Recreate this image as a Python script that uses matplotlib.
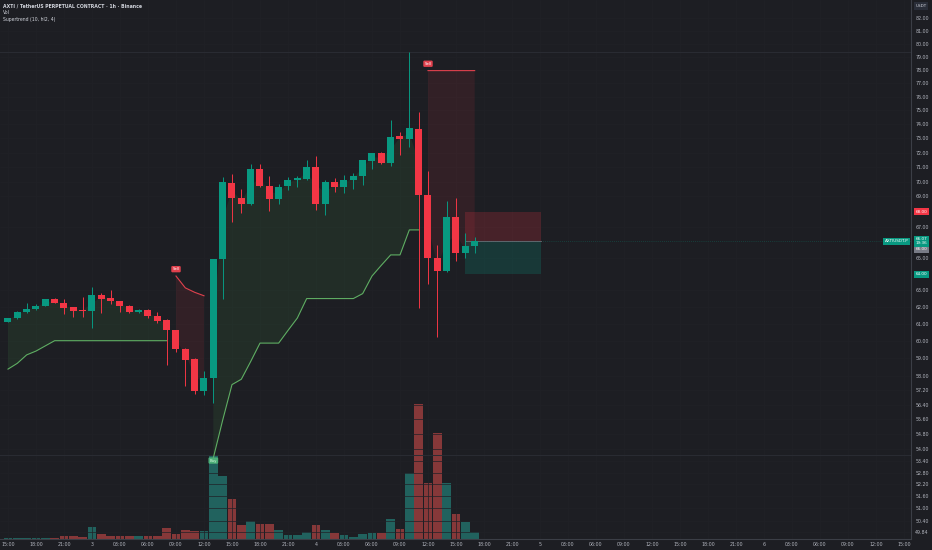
import matplotlib
matplotlib.use("Agg")
import matplotlib.pyplot as plt
import matplotlib.transforms as mtransforms
from matplotlib.ticker import NullLocator
import numpy as np

# hourly candles, first one is 15:00 on day 2
opens = [61.12, 61.31, 61.69, 61.87, 62.06, 62.47, 62.24, 61.98, 61.82, 61.73,
         62.70, 62.51, 62.33, 62.06, 61.69, 61.82, 61.43, 61.20, 60.61, 59.50,
         58.93, 57.15, 57.87, 64.93, 69.93, 68.87, 68.53, 70.85, 69.73, 68.80,
         69.70, 70.08, 70.20, 71.00, 68.47, 70.00, 69.65, 70.13, 70.40, 71.42,
         71.95, 71.30, 73.15, 72.93, 73.68, 69.10, 65.00, 64.22, 67.67, 65.35,
         65.75]
highs = [61.36, 61.74, 62.25, 62.18, 62.50, 62.52, 62.50, 62.02, 62.57, 63.20,
         62.84, 63.00, 62.37, 62.09, 61.86, 61.85, 61.72, 61.27, 60.65, 59.55,
         58.98, 58.27, 64.95, 70.30, 70.54, 69.47, 71.20, 71.20, 70.35, 69.83,
         70.33, 70.35, 71.45, 71.75, 70.10, 70.27, 70.45, 70.60, 71.50, 72.00,
         72.05, 74.30, 73.45, 79.40, 74.90, 70.70, 65.80, 68.70, 68.87, 66.60,
         66.35]
lows = [61.08, 61.28, 61.66, 61.84, 62.03, 62.22, 61.60, 61.37, 61.39, 60.75,
        61.66, 62.16, 61.69, 61.63, 61.66, 61.31, 61.04, 58.63, 59.33, 57.41,
        57.00, 56.92, 56.50, 62.50, 67.33, 67.92, 68.40, 69.65, 68.02, 68.47,
        69.45, 69.62, 70.13, 68.07, 67.77, 69.29, 69.20, 69.50, 69.80, 70.88,
        71.20, 71.10, 71.85, 72.40, 61.96, 63.40, 60.20, 64.15, 64.80, 65.00,
        65.30]
closes = [61.31, 61.71, 61.88, 62.08, 62.47, 62.25, 61.96, 61.76, 61.76, 62.70,
          62.47, 62.35, 62.04, 61.71, 61.82, 61.47, 61.18, 60.63, 59.50, 58.90,
          57.12, 57.88, 64.93, 70.00, 68.91, 68.51, 70.85, 69.71, 68.80, 69.65,
          70.13, 70.22, 71.00, 68.51, 70.00, 69.65, 70.13, 70.40, 71.45, 71.95,
          71.30, 73.12, 72.93, 73.72, 69.12, 65.00, 64.20, 67.65, 65.35, 65.75,
          66.07]
volumes = [13, 10, 13, 7, 10, 10, 30, 27, 23, 117,
           50, 33, 27, 27, 30, 27, 30, 107, 47, 87,
           77, 80, 840, 630, 397, 140, 180, 153, 147, 87,
           40, 43, 70, 137, 90, 60, 37, 23, 53, 63,
           63, 197, 100, 660, 1347, 557, 1063, 557, 247, 170,
           73]

# supertrend (10, hl2, 4): None where the other side is active
st_up = [58.37, 58.70, 59.18, 59.40, 59.70, 60.00, 60.00, 60.00, 60.00, 60.00,
         60.00, 60.00, 60.00, 60.00, 60.00, 60.00, 60.00, 60.00, None, None,
         None, None, 53.56, 55.55, 57.50, 57.80, 58.80, 59.86, 59.86, 59.86,
         60.60, 61.33, 62.50, 62.50, 62.50, 62.50, 62.50, 62.50, 62.80, 63.88,
         64.55, 65.20, 65.20, 66.80, 66.80, None, None, None, None, None,
         None]
st_down = [None] * 18 + [63.88, 63.15, 62.88, 62.67] + [None] * 23 + [77.95] * 6
sell_bars = [18, 45]
buy_bars = [22]

# short position tool
pos_start, pos_end = 49, 57.1
pos_stop, pos_entry, pos_target = 68.00, 66.07, 64.00

x_tick_labels = ["15:00", "18:00", "21:00", "3", "03:00", "06:00", "09:00", "12:00",
                 "15:00", "18:00", "21:00", "4", "03:00", "06:00", "09:00", "12:00",
                 "15:00", "18:00", "21:00", "5", "03:00", "06:00", "09:00", "12:00",
                 "15:00", "18:00", "21:00", "6", "03:00", "06:00", "09:00", "12:00",
                 "15:00"]
y_ticks = [82, 81, 80, 79, 78, 77, 76, 75, 74, 73, 72, 71, 70, 69, 67, 65,
           63, 62, 61, 60, 59, 58, 57.2, 56.4, 55.6, 54.8, 54.0, 53.4, 52.8,
           52.2, 51.6, 51.0, 50.4, 49.84]

BG = "#1d1e23"
UP = "#089981"
DOWN = "#f23645"
TXT = "#b2b5be"
AXIS = "#3b3e46"
GRID = "#202127"

o = np.array(opens)
h = np.array(highs)
l = np.array(lows)
c = np.array(closes)
v = np.array(volumes, dtype=float)
x = np.arange(len(o))
up = c >= o
st_u = np.array([np.nan if s is None else s for s in st_up])
st_d = np.array([np.nan if s is None else s for s in st_down])
mid = (o + c) / 2

fig = plt.figure(figsize=(9.32, 5.5), dpi=100, facecolor=BG)
ax = fig.add_axes([0, 11 / 550, 911 / 932, 539 / 550])
ax_v = ax.twinx()
ax.set_zorder(ax_v.get_zorder() + 1)
ax.patch.set_visible(False)
ax_v.set_facecolor(BG)

ax.set_yscale("log")
ax.set_ylim(49.51, 83.47)
ax.set_xlim(-0.857, 96.75)

# volume
ax_v.bar(x, v, width=0.92, color=np.where(up, "#26a69a", "#ef5350"), alpha=0.5, linewidth=0)
ax_v.set_ylim(0, 5390)
ax_v.set_yticks([])
for s in ax_v.spines.values():
    s.set_visible(False)

# grid (very faint, as in the dark theme)
for t in range(0, 97, 3):
    ax.axvline(t, color=GRID, linewidth=0.5, zorder=0)
for t in y_ticks:
    ax.axhline(t, color=GRID, linewidth=0.5, zorder=0)
ax.axhline(79.4, color="#2a2c33", linewidth=0.7, zorder=0)
ax.axhline(53.7, color="#2a2c33", linewidth=0.7, zorder=0)

# supertrend fills and lines
ax.fill_between(x, st_u, mid, color="#4caf50", alpha=0.11, linewidth=0, zorder=1)
ax.fill_between(x, st_d, mid, color=DOWN, alpha=0.10, linewidth=0, zorder=1)
ax.plot(x, st_u, color="#5fae63", linewidth=0.8, zorder=2)
ax.plot(x, st_d, color="#e0414d", linewidth=0.8, zorder=2)

# position tool
ax.fill_between([pos_start, pos_end], pos_entry, pos_stop, color=DOWN, alpha=0.2, linewidth=0, zorder=1)
ax.fill_between([pos_start, pos_end], pos_target, pos_entry, color=UP, alpha=0.22, linewidth=0, zorder=1)
ax.plot([pos_start, pos_end], [pos_entry, pos_entry], color="#6a6d75", linewidth=0.6, zorder=2)
ax.axhline(closes[-1], xmin=0.52, color=UP, linewidth=0.5, linestyle=(0, (1, 2)), alpha=0.5, zorder=1)

# candles
colors = np.where(up, UP, DOWN)
ax.vlines(x, l, h, colors=colors, linewidth=0.7, zorder=3)
body_low = np.minimum(o, c)
body_h = np.maximum(np.abs(c - o), 0.04)
ax.bar(x, body_h, bottom=body_low, width=0.75, color=colors, linewidth=0, zorder=4)

# supertrend signals
for i in sell_bars:
    ax.annotate("Sell", xy=(i, st_d[i]), xytext=(0, 3.5), textcoords="offset points",
                ha="center", va="bottom", fontsize=2.8, color="white", zorder=6,
                bbox=dict(boxstyle="round,pad=0.3", fc="#e0414d", ec="none"))
for i in buy_bars:
    ax.annotate("Buy", xy=(i, st_u[i]), xytext=(0, -0.5), textcoords="offset points",
                ha="center", va="top", fontsize=2.8, color="#d8f5dd", zorder=6,
                bbox=dict(boxstyle="round,pad=0.3", fc="#4caf78", ec="none"))

# axes styling
for name, s in ax.spines.items():
    s.set_visible(name in ("right", "bottom"))
    s.set_color(AXIS)
    s.set_linewidth(0.8)
ax.yaxis.tick_right()
ax.yaxis.set_minor_locator(NullLocator())
ax.set_yticks(y_ticks)
ax.set_yticklabels([f"{t:.2f}" for t in y_ticks])
ax.tick_params(axis="y", length=0, pad=3.0, labelsize=3.4, labelcolor=TXT)
ax.set_xticks(range(0, 97, 3))
ax.set_xticklabels(x_tick_labels)
ax.tick_params(axis="x", length=0, pad=2.0, labelsize=3.4, labelcolor=TXT)

# price axis labels
trans = mtransforms.blended_transform_factory(ax.transAxes, ax.transData)


def axis_label(y, text, fc, tc="white", xpos=1.0115, ha="center"):
    ax.text(xpos, y, text, transform=trans, ha=ha, va="center", fontsize=3.0,
            color=tc, clip_on=False, zorder=20, linespacing=1.0,
            bbox=dict(boxstyle="square,pad=0.35", fc=fc, ec="none"))


axis_label(pos_stop, "68.00", DOWN)
axis_label(65.55, "66.00", "#787b86")
axis_label(pos_target, "64.00", UP)
axis_label(closes[-1], "66.07\n19:36", UP)
axis_label(closes[-1], "AXTIUSDT.P", UP, xpos=0.997, ha="right")

fig.text(921 / 932, 1 - 6 / 550, "USDT", ha="center", va="center", fontsize=3.0,
         color="#d1d4dc", bbox=dict(boxstyle="square,pad=0.4", fc="#2a2e39", ec="none"))

# legend lines
fig.text(3 / 932, 1 - 6 / 550, "AXTI / TetherUS PERPETUAL CONTRACT · 1h · Binance",
         ha="left", va="center", fontsize=3.3, color="#d1d4dc", fontweight="bold")
fig.text(3 / 932, 1 - 13 / 550, "Vol", ha="left", va="center", fontsize=3.3, color="#d1d4dc")
fig.text(3 / 932, 1 - 20 / 550, "Supertrend (10, hl2, 4)", ha="left", va="center",
         fontsize=3.3, color="#d1d4dc")

fig.savefig("out.png", dpi=100, facecolor=BG)
